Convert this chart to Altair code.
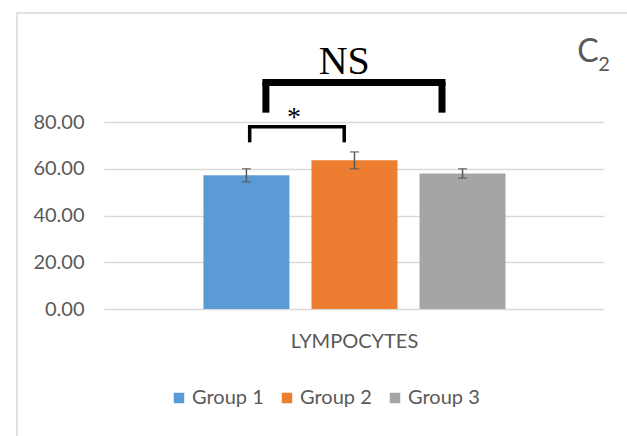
import altair as alt
import pandas as pd

# --- values -------------------------------------------------------------
groups = ["Group 1", "Group 2", "Group 3"]
slots = [1, 2, 3]
means = [57.2, 63.6, 58.0]
sems = [2.8, 3.6, 2.0]
palette = ["#5B9BD5", "#ED7D31", "#A5A5A5"]
y_ticks = [0, 20, 40, 60, 80]
category = "LYMPOCYTES"

# significance brackets: span on x, crossbar and foot heights on y
sig_labels = ["*", "NS"]
sig_start = [1.03, 1.18]
sig_end = [1.905, 2.81]
sig_top = [78.0, 96.9]
sig_foot = [71.3, 84.0]
sig_label_x = [1.44, 1.905]
sig_label_y = [78.5, 100.5]

# --- tables -------------------------------------------------------------
bars_df = pd.DataFrame({
    "group": groups,
    "slot": slots,
    "mean": means,
    "lo": [m - s for m, s in zip(means, sems)],
    "hi": [m + s for m, s in zip(means, sems)],
})

TXT = "#595959"
SANS = "Lato"

xs = alt.Scale(domain=[-0.272, 4.263], nice=False, zero=False)
ys = alt.Scale(domain=[0, 80], nice=False)

base = alt.Chart(bars_df)

bars = base.mark_bar(orient="vertical", size=86).encode(
    x=alt.X("slot:Q", scale=xs,
            axis=alt.Axis(title=category, labels=False, ticks=False, domain=False,
                          grid=False, titleFont=SANS, titleFontSize=20,
                          titleFontWeight="normal", titleColor=TXT, titlePadding=22)),
    y=alt.Y("mean:Q", scale=ys,
            axis=alt.Axis(values=y_ticks, format=".2f", title=None, domain=False,
                          ticks=False, labelFont=SANS, labelFontSize=20,
                          labelColor=TXT, labelPadding=20, gridColor="#D9D9D9",
                          gridWidth=1.3)),
    color=alt.Color("group:N", scale=alt.Scale(domain=groups, range=palette),
                    legend=alt.Legend(orient="none", legendX=65, legendY=266,
                                      direction="horizontal", title=None,
                                      symbolType="square", symbolSize=110,
                                      symbolStrokeWidth=0, labelFont=SANS,
                                      labelFontSize=20, labelColor=TXT,
                                      columnPadding=13, labelOffset=3, padding=0)),
)

err = base.mark_rule(color=TXT, strokeWidth=1.5).encode(
    x=alt.X("slot:Q", scale=xs), y=alt.Y("lo:Q", scale=ys), y2="hi:Q"
)
caps = base.transform_fold(["lo", "hi"], as_=["end", "v"]).mark_tick(
    orient="horizontal", size=9, thickness=1.5, color=TXT
).encode(x=alt.X("slot:Q", scale=xs), y=alt.Y("v:Q", scale=ys))


def bracket(i, width, font_size):
    bar_df = pd.DataFrame({"x": [sig_start[i]], "x2": [sig_end[i]], "y": [sig_top[i]]})
    legs_df = pd.DataFrame({"x": [sig_start[i], sig_end[i]],
                            "y": [sig_foot[i]] * 2, "y2": [sig_top[i]] * 2})
    lab_df = pd.DataFrame({"x": [sig_label_x[i]], "y": [sig_label_y[i]],
                           "t": [sig_labels[i]]})
    cross = alt.Chart(bar_df).mark_rule(color="black", strokeWidth=width,
                                        strokeCap="square").encode(
        x=alt.X("x:Q", scale=xs), x2="x2:Q", y=alt.Y("y:Q", scale=ys))
    legs = alt.Chart(legs_df).mark_rule(color="black", strokeWidth=width).encode(
        x=alt.X("x:Q", scale=xs), y=alt.Y("y:Q", scale=ys), y2="y2:Q")
    lab = alt.Chart(lab_df).mark_text(font="Liberation Serif", fontSize=font_size,
                                      baseline="alphabetic", align="center",
                                      color="black").encode(
        x=alt.X("x:Q", scale=xs), y=alt.Y("y:Q", scale=ys), text="t:N")
    return [cross, legs, lab]


one = pd.DataFrame({"k": [0]})
frame = alt.Chart(one).mark_rect(fillOpacity=0, stroke="#D9D9D9", strokeWidth=1.5).encode(
    x=alt.value(-87), x2=alt.value(530), y=alt.value(-109), y2=alt.value(330)
)
panel_c = alt.Chart(one).mark_text(text="C", font=SANS, fontSize=32, color=TXT,
                                   align="center", baseline="alphabetic").encode(
    x=alt.value(484), y=alt.value(-60))
panel_sub = alt.Chart(one).mark_text(text="2", font=SANS, fontSize=20, color=TXT,
                                     align="center", baseline="alphabetic").encode(
    x=alt.value(500), y=alt.value(-51))

layers = [frame, bars, err, caps] + bracket(0, 3.5, 28) + bracket(1, 7, 40) + [panel_c, panel_sub]

chart = alt.layer(*layers).properties(
    width=500, height=187,
    autosize=alt.AutoSizeParams(type="none"),
    padding={"left": 104, "top": 122, "right": 23, "bottom": 127},
).configure(background="white").configure_view(stroke=None)

chart.save("out.html", embed_options={"renderer": "svg", "actions": False})
